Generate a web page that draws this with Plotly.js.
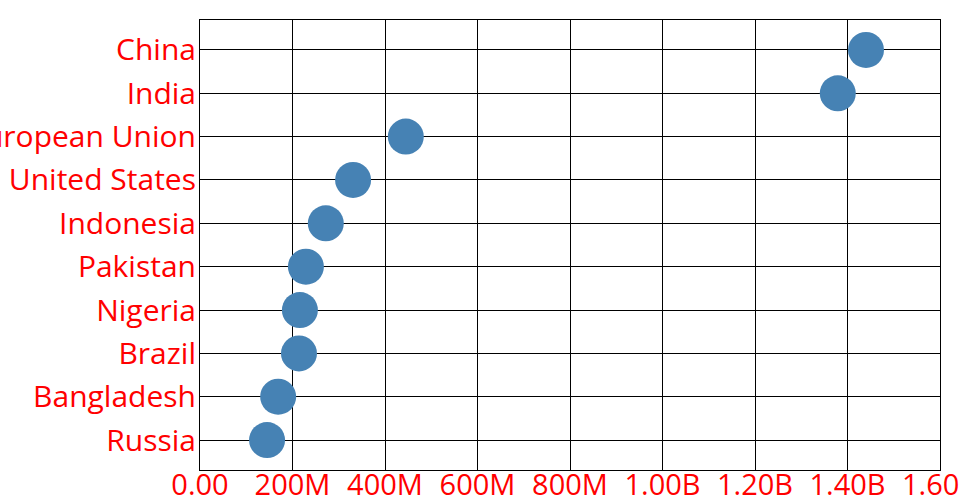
<!DOCTYPE html>
<html>
<head>
<meta charset="utf-8">
<script src="https://cdn.plot.ly/plotly-3.0.1.min.js"></script>
<style>html,body{margin:0;padding:0;background:#fff;}#chart{width:960px;height:500px;}</style>
</head>
<body>
<div id="chart"></div>
<script>
var countries = ["Russia", "Bangladesh", "Brazil", "Nigeria", "Pakistan", "Indonesia", "United States", "European Union", "India", "China"];
var population = [145e6, 169e6, 214e6, 216e6, 229e6, 272e6, 331e6, 445e6, 1379e6, 1440e6];
var tickVals = [0, 200e6, 400e6, 600e6, 800e6, 1000e6, 1200e6, 1400e6, 1600e6];
var tickText = ["0.00", "200M", "400M", "600M", "800M", "1.00B", "1.20B", "1.40B", "1.60B"];

var trace = {
  type: "scatter",
  mode: "markers",
  x: population,
  y: countries,
  marker: {size: 36, color: "#4682B4"},
  hoverinfo: "x+y",
  cliponaxis: false
};

var layout = {
  width: 960,
  height: 500,
  margin: {l: 200, r: 20, t: 20, b: 30},
  paper_bgcolor: "#fff",
  plot_bgcolor: "#fff",
  showlegend: false,
  font: {family: "Open Sans", size: 29, color: "red"},
  xaxis: {
    range: [0, 1.6e9],
    tickvals: tickVals,
    ticktext: tickText,
    showgrid: true,
    gridcolor: "black",
    gridwidth: 1,
    showline: true,
    linecolor: "black",
    linewidth: 1,
    mirror: true,
    zeroline: false,
    ticks: "",
    ticklabelstandoff: -11,
    ticklabeloverflow: "allow",
    tickfont: {family: "Open Sans", size: 29, color: "red"}
  },
  yaxis: {
    type: "category",
    categoryorder: "array",
    categoryarray: countries,
    range: [-0.69, 9.69],
    showgrid: true,
    gridcolor: "black",
    gridwidth: 1,
    showline: true,
    linecolor: "black",
    linewidth: 1,
    mirror: true,
    zeroline: false,
    ticks: "",
    ticklabelstandoff: -3,
    tickfont: {family: "Open Sans", size: 30, color: "red"}
  }
};

Plotly.newPlot("chart", [trace], layout, {displayModeBar: false});
</script>
</body>
</html>
